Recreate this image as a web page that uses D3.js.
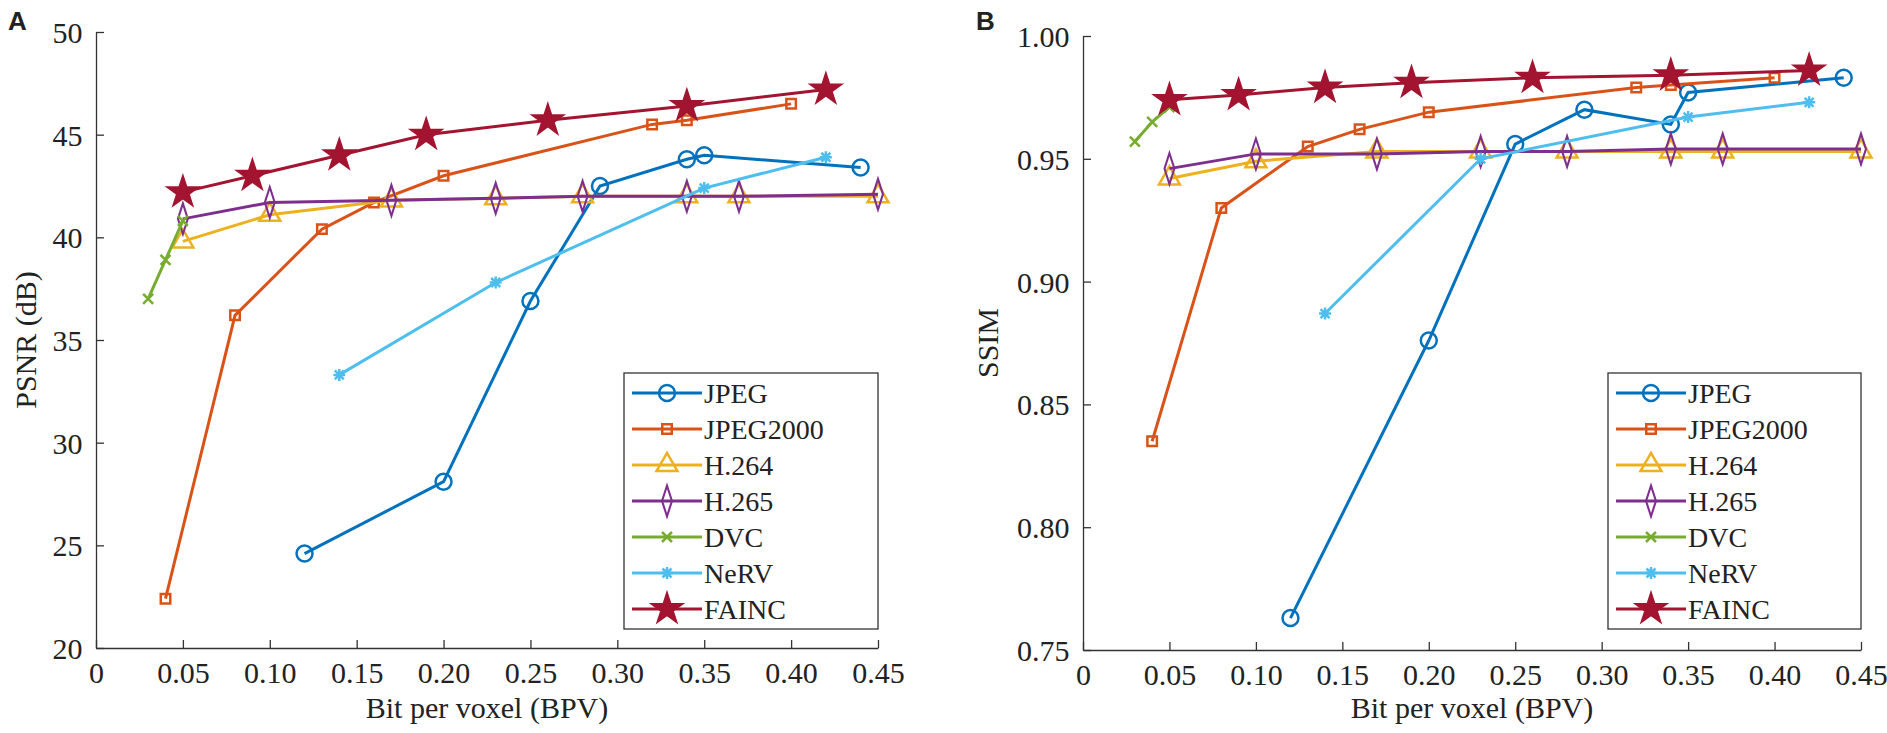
<!DOCTYPE html>
<html>
<head>
<meta charset="utf-8">
<script src="https://cdn.jsdelivr.net/npm/d3@7"></script>
<style>
  body { margin: 0; background: #fff; }
  text { font-family: "Liberation Serif", "Times New Roman", serif; fill: #222; }
</style>
</head>
<body>
<svg id="fig" width="1887" height="733"></svg>
<script>
// Rate-distortion curves, values
const series = [
    { name: 'JPEG', color: '#0072BD', marker: 'circle',
      psnr: [[0.12,24.6],[0.20,28.1],[0.25,36.9],[0.29,42.5],[0.34,43.8],[0.35,44.0],[0.44,43.4]],
      ssim: [[0.12,0.763],[0.20,0.876],[0.25,0.956],[0.29,0.970],[0.34,0.964],[0.35,0.977],[0.44,0.983]] },
    { name: 'JPEG2000', color: '#D95319', marker: 'square',
      psnr: [[0.04,22.4],[0.08,36.2],[0.13,40.4],[0.16,41.7],[0.20,43.0],[0.32,45.5],[0.34,45.7],[0.40,46.5]],
      ssim: [[0.04,0.835],[0.08,0.930],[0.13,0.955],[0.16,0.962],[0.20,0.969],[0.32,0.979],[0.34,0.980],[0.40,0.983]] },
    { name: 'H.264', color: '#EDB120', marker: 'triangle',
      psnr: [[0.05,39.8],[0.10,41.1],[0.17,41.8],[0.23,41.9],[0.28,42.0],[0.34,42.0],[0.37,42.0],[0.45,42.0]],
      ssim: [[0.05,0.942],[0.10,0.949],[0.17,0.953],[0.23,0.953],[0.28,0.953],[0.34,0.953],[0.37,0.953],[0.45,0.953]] },
    { name: 'H.265', color: '#7E2F8E', marker: 'diamond',
      psnr: [[0.05,40.9],[0.10,41.7],[0.17,41.8],[0.23,41.9],[0.28,42.0],[0.34,42.0],[0.37,42.0],[0.45,42.1]],
      ssim: [[0.05,0.946],[0.10,0.952],[0.17,0.952],[0.23,0.953],[0.28,0.953],[0.34,0.954],[0.37,0.954],[0.45,0.954]] },
    { name: 'DVC', color: '#77AC30', marker: 'cross',
      psnr: [[0.03,37.0],[0.04,38.9],[0.05,40.8]],
      ssim: [[0.03,0.957],[0.04,0.965],[0.05,0.971]] },
    { name: 'NeRV', color: '#4DBEEE', marker: 'asterisk',
      psnr: [[0.14,33.3],[0.23,37.8],[0.35,42.4],[0.42,43.9]],
      ssim: [[0.14,0.887],[0.23,0.950],[0.35,0.967],[0.42,0.973]] },
    { name: 'FAINC', color: '#A2142F', marker: 'star',
      psnr: [[0.05,42.2],[0.09,43.0],[0.14,44.0],[0.19,45.0],[0.26,45.7],[0.34,46.4],[0.42,47.2]],
      ssim: [[0.05,0.974],[0.09,0.976],[0.14,0.979],[0.19,0.981],[0.26,0.983],[0.34,0.984],[0.42,0.986]] }
];

const panels = [
    { key: 'psnr', letter: 'A', x0: 96, x1: 878, y0: 32, y1: 648, domain: [20, 50], step: 5,
      fmt: d3.format('d'), ylabel: 'PSNR (dB)', ylabelX: 36, legendX: 624 },
    { key: 'ssim', letter: 'B', x0: 1083, x1: 1861, y0: 36, y1: 650, domain: [0.75, 1.0], step: 0.05,
      fmt: d3.format('.2f'), ylabel: 'SSIM', ylabelX: 998, legendX: 1608 }
];

const svg = d3.select('#fig');

function drawMarker(g, type, color) {
    const sym = {
        circle: [d3.symbolCircle, 200], square: [d3.symbolSquare, 90],
        triangle: [d3.symbolTriangle, 190], diamond: [d3.symbolDiamond, 150],
        star: [d3.symbolStar, 260]
    };
    if (type === 'cross') {
        g.append('path').attr('d', 'M-5,-5L5,5M-5,5L5,-5')
            .attr('stroke', color).attr('stroke-width', 2.5);
    } else if (type === 'asterisk') {
        g.append('path').attr('d', 'M-6,0L6,0M0,-6L0,6M-4.5,-4.5L4.5,4.5M-4.5,4.5L4.5,-4.5')
            .attr('stroke', color).attr('stroke-width', 2.5);
    } else {
        const [s, size] = sym[type];
        g.append('path').attr('d', d3.symbol(s, size)())
            .attr('fill', type === 'star' ? color : 'none')
            .attr('stroke', color).attr('stroke-width', 2.5)
            .attr('transform', type === 'diamond' ? 'scale(0.75,1.35)' : null);
    }
}

panels.forEach(p => {
    const x = d3.scaleLinear().domain([0, 0.45]).range([p.x0, p.x1]);
    const y = d3.scaleLinear().domain(p.domain).range([p.y1, p.y0]);
    const g = svg.append('g');

    // axes (ticks point inward, as in MATLAB)
    const xt = d3.range(0, 0.4501, 0.05);
    const yt = d3.range(p.domain[0], p.domain[1] + 1e-9, p.step);
    const xa = g.append('g').attr('transform', `translate(0,${p.y1})`)
        .call(d3.axisBottom(x).tickValues(xt).tickSize(-8).tickSizeOuter(0)
            .tickFormat(d => d === 0 ? '0' : d3.format('.2f')(d)));
    const ya = g.append('g').attr('transform', `translate(${p.x0},0)`)
        .call(d3.axisLeft(y).tickValues(yt).tickSize(-8).tickSizeOuter(0).tickFormat(p.fmt));
    [xa, ya].forEach(a => {
        a.selectAll('path, line').attr('stroke', '#333').attr('stroke-width', 1.3);
        a.selectAll('text').style('font-size', '30px').attr('fill', '#222');
    });
    xa.selectAll('text').attr('dy', '1.05em');
    ya.selectAll('text').attr('dx', '-0.35em').attr('dy', '0.35em');

    g.append('text').attr('x', (p.x0 + p.x1) / 2).attr('y', 718)
        .attr('text-anchor', 'middle').style('font-size', '30px').text('Bit per voxel (BPV)');
    g.append('text').attr('transform', `translate(${p.ylabelX},${(p.y0 + p.y1) / 2}) rotate(-90)`)
        .attr('text-anchor', 'middle').style('font-size', '30px').text(p.ylabel);
    g.append('text').attr('x', p.key === 'psnr' ? 8 : 976).attr('y', 30)
        .style('font-family', 'Liberation Sans, Arial, sans-serif').style('font-weight', 'bold')
        .style('font-size', '26px').text(p.letter);

    // lines and markers
    const line = d3.line().x(d => x(d[0])).y(d => y(d[1]));
    series.forEach(s => {
        g.append('path').datum(s[p.key]).attr('d', line)
            .attr('fill', 'none').attr('stroke', s.color).attr('stroke-width', 3);
        s[p.key].forEach(d => {
            drawMarker(g.append('g').attr('transform', `translate(${x(d[0])},${y(d[1])})`), s.marker, s.color);
        });
    });

    // legend
    const lx = p.legendX, ly = 373, lw = p.x1 - p.legendX, lh = 256;
    const lg = g.append('g');
    lg.append('rect').attr('x', lx).attr('y', ly).attr('width', lw).attr('height', lh)
        .attr('fill', '#fff').attr('stroke', '#333').attr('stroke-width', 1.3);
    series.forEach((s, i) => {
        const cy = ly + 20 + i * 36;
        lg.append('line').attr('x1', lx + 8).attr('x2', lx + 78).attr('y1', cy).attr('y2', cy)
            .attr('stroke', s.color).attr('stroke-width', 3);
        drawMarker(lg.append('g').attr('transform', `translate(${lx + 43},${cy})`), s.marker, s.color);
        lg.append('text').attr('x', lx + 80).attr('y', cy + 10)
            .style('font-size', '28px').text(s.name);
    });
});
</script>
</body>
</html>
